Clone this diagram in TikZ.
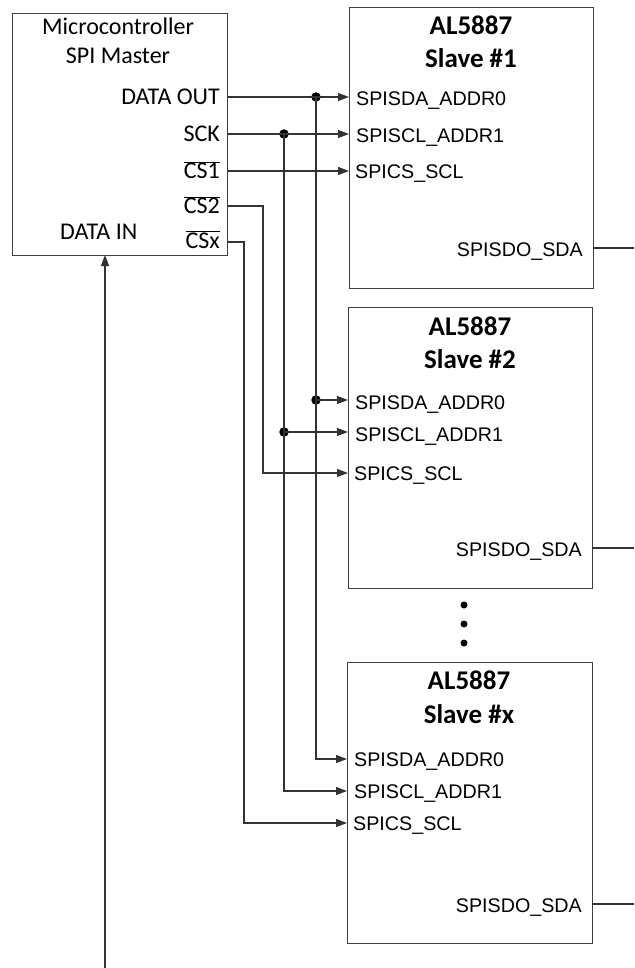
\documentclass[tikz,border=0pt]{standalone}
\usepackage{fontspec}
\setmainfont{Carlito}
\newfontfamily\arialf{Liberation Sans}
\usetikzlibrary{arrows.meta}
\begin{document}
\begin{tikzpicture}[x=1pt,y=-1pt,
  box/.style={draw=black!75, line width=1pt, inner sep=0pt, anchor=north west},
  wire/.style={draw=black!80, line width=1.1pt},
  arr/.style={wire,-{Triangle[length=11pt,width=8pt]}},
  junc/.style={circle, fill=black, inner sep=0pt, minimum size=9.5pt},
  edot/.style={circle, fill=black, inner sep=0pt, minimum size=7pt},
  mlab/.style={font=\fontsize{24}{29}\selectfont, inner sep=0pt},
  plab/.style={font=\arialf\fontsize{19.7}{24}\selectfont, inner sep=0pt},
  ttl/.style={font=\bfseries\fontsize{27}{33}\selectfont, inner sep=0pt, anchor=base},
]
\useasboundingbox (0,0) rectangle (634,968);

% ---------- master ----------
\node[box, minimum width=215pt, minimum height=242pt] (m) at (12,13) {};
\node[mlab, anchor=base] (mt1) at (118,35) {Microcontroller};
\node[mlab, anchor=base] (mt2) at (118,64) {SPI Master};
\node[mlab, anchor=base east] (ldo)  at (220,105) {DATA OUT};
\node[mlab, anchor=base east] (lsck) at (220,142) {SCK};
\node[mlab, anchor=base east] (lcs1) at (220,179) {$\overline{\mbox{CS1}}$};
\node[mlab, anchor=base east] (lcs2) at (220,214) {$\overline{\mbox{CS2}}$};
\node[mlab, anchor=base east] (lcsx) at (220,248) {$\overline{\mbox{CSx}}$};
\node[mlab, anchor=base west] (ldi)  at (60,240) {DATA IN};

\coordinate (mdo)  at (227,97);
\coordinate (msck) at (227,134);
\coordinate (mcs1) at (227,171);
\coordinate (mcs2) at (227,206);
\coordinate (mcsx) at (227,242);
\coordinate (mdi)  at (105,255);
\coordinate (dibot) at (105,968);

% ---------- slave 1 ----------
\node[box, minimum width=244pt, minimum height=281pt] (s1) at (349,7) {};
\node[ttl] (s1a) at (471,35) {AL5887};
\node[ttl] (s1b) at (471,68) {Slave \#1};
\node[plab, anchor=base west] (s1p1) at (356,106) {SPISDA\_ADDR0};
\node[plab, anchor=base west] (s1p2) at (356,143) {SPISCL\_ADDR1};
\node[plab, anchor=base west] (s1p3) at (355,179) {SPICS\_SCL};
\node[plab, anchor=base east] (s1p4) at (583,256) {SPISDO\_SDA};
\coordinate (s1sda) at (349,97);
\coordinate (s1scl) at (349,134);
\coordinate (s1cs)  at (349,171);
\coordinate (s1out) at (593,248);
\coordinate (s1end) at (634,248);

% ---------- slave 2 ----------
\node[box, minimum width=244pt, minimum height=281pt] (s2) at (348,307) {};
\node[ttl] (s2a) at (470,335) {AL5887};
\node[ttl] (s2b) at (470,368) {Slave \#2};
\node[plab, anchor=base west] (s2p1) at (355,409) {SPISDA\_ADDR0};
\node[plab, anchor=base west] (s2p2) at (355,441) {SPISCL\_ADDR1};
\node[plab, anchor=base west] (s2p3) at (354,480) {SPICS\_SCL};
\node[plab, anchor=base east] (s2p4) at (582,556) {SPISDO\_SDA};
\coordinate (s2sda) at (348,400);
\coordinate (s2scl) at (348,432);
\coordinate (s2cs)  at (348,473);
\coordinate (s2out) at (592,548);
\coordinate (s2end) at (634,548);

% ---------- slave x ----------
\node[box, minimum width=245pt, minimum height=281pt] (sx) at (347,662) {};
\node[ttl] (sxa) at (469,689) {AL5887};
\node[ttl] (sxb) at (469,723) {Slave \#x};
\node[plab, anchor=base west] (sxp1) at (354,766) {SPISDA\_ADDR0};
\node[plab, anchor=base west] (sxp2) at (354,798) {SPISCL\_ADDR1};
\node[plab, anchor=base west] (sxp3) at (353,830) {SPICS\_SCL};
\node[plab, anchor=base east] (sxp4) at (582,912) {SPISDO\_SDA};
\coordinate (sxsda) at (347,759);
\coordinate (sxscl) at (347,791);
\coordinate (sxcs)  at (347,823);
\coordinate (sxout) at (592,904);
\coordinate (sxend) at (634,904);

% ---------- junctions / bends ----------
\node[junc] (jdo1)  at (316,97) {};
\node[junc] (jsck1) at (284,134) {};
\node[junc] (jdo2)  at (316,400) {};
\node[junc] (jsck2) at (284,432) {};
\coordinate (bdo)   at (316,759);
\coordinate (bsck)  at (284,791);
\coordinate (bcs2a) at (263,206);
\coordinate (bcs2b) at (263,473);
\coordinate (bcsxa) at (244,242);
\coordinate (bcsxb) at (244,823);

% ---------- wires ----------
\draw[arr] (mdo) -- (s1sda);
\draw[arr] (msck) -- (s1scl);
\draw[arr] (mcs1) -- (s1cs);
\draw[wire] (jdo1.center) -- (jdo2.center);
\draw[arr] (jdo2.center) -- (s2sda);
\draw[arr] (jdo2.center) -- (bdo) -- (sxsda);
\draw[wire] (jsck1.center) -- (jsck2.center);
\draw[arr] (jsck2.center) -- (s2scl);
\draw[arr] (jsck2.center) -- (bsck) -- (sxscl);
\draw[arr] (mcs2) -- (bcs2a) -- (bcs2b) -- (s2cs);
\draw[arr] (mcsx) -- (bcsxa) -- (bcsxb) -- (sxcs);
\draw[arr] (dibot) -- (mdi);
\draw[wire] (s1out) -- (s1end);
\draw[wire] (s2out) -- (s2end);
\draw[wire] (sxout) -- (sxend);

% ---------- ellipsis ----------
\node[edot] (e1) at (464,605) {};
\node[edot] (e2) at (464,624) {};
\node[edot] (e3) at (464,643) {};
\end{tikzpicture}
\end{document}
